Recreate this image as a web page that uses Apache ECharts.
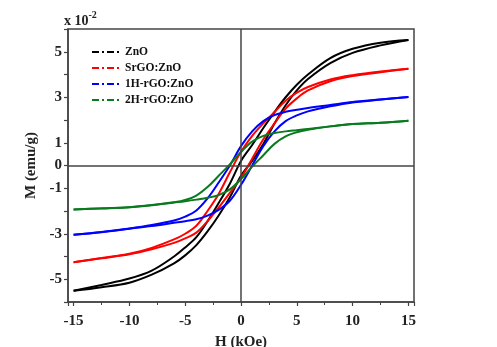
<!DOCTYPE html>
<html>
<head>
<meta charset="utf-8">
<script src="https://cdn.jsdelivr.net/npm/echarts@6/dist/echarts.min.js"></script>
<style>html,body{margin:0;padding:0;background:#fff;}#c{width:497px;height:347px;}</style>
</head>
<body>
<div id="c"></div>
<script>
// Field values (kOe)
var H = [-15, -12.5, -10, -8, -6, -5, -4, -3, -2, -1, 0, 1, 2, 3, 4, 5, 6, 8, 10, 12.5, 15];
// Magnetization (x 10^-2 emu/g), ascending (field up) and descending (field down) branches
var ZnO_asc  = [-5.51, -5.35, -5.15, -4.8, -4.3, -3.95, -3.5, -2.9, -2.2, -1.4, -0.45, 0.2, 0.95, 1.85, 2.65, 3.3, 3.8, 4.5, 4.95, 5.28, 5.52];
var ZnO_desc = [-5.51, -5.25, -4.97, -4.62, -4.0, -3.6, -3.15, -2.45, -1.65, -0.8, 0.2, 0.9, 1.65, 2.35, 3.0, 3.55, 4.0, 4.72, 5.13, 5.4, 5.52];
var SrGO_asc  = [-4.25, -4.08, -3.9, -3.68, -3.4, -3.2, -2.95, -2.45, -1.85, -1.2, -0.55, 0.3, 1.15, 1.85, 2.5, 2.95, 3.3, 3.7, 3.93, 4.1, 4.25];
var SrGO_desc = [-4.25, -4.07, -3.88, -3.62, -3.25, -3.0, -2.65, -2.0, -1.25, -0.3, 0.6, 1.3, 1.85, 2.35, 2.85, 3.2, 3.45, 3.78, 3.97, 4.13, 4.25];
var H1_asc  = [-3.04, -2.93, -2.78, -2.66, -2.52, -2.45, -2.36, -2.2, -1.95, -1.55, -0.85, 0.0, 0.85, 1.5, 1.95, 2.2, 2.38, 2.6, 2.77, 2.9, 3.01];
var H1_desc = [-3.04, -2.92, -2.77, -2.62, -2.42, -2.25, -1.98, -1.45, -0.75, 0.0, 0.85, 1.5, 1.95, 2.22, 2.36, 2.45, 2.53, 2.66, 2.79, 2.9, 3.01];
var H2_asc  = [-1.93, -1.89, -1.84, -1.75, -1.63, -1.57, -1.5, -1.42, -1.3, -1.05, -0.6, -0.05, 0.45, 0.95, 1.28, 1.46, 1.57, 1.72, 1.82, 1.88, 1.97];
var H2_desc = [-1.93, -1.88, -1.83, -1.74, -1.62, -1.52, -1.32, -0.95, -0.45, 0.05, 0.6, 1.05, 1.3, 1.43, 1.5, 1.55, 1.6, 1.72, 1.82, 1.88, 1.97];

var names = ['ZnO', 'SrGO:ZnO', '1H-rGO:ZnO', '2H-rGO:ZnO'];
var colors = ['#000000', '#ff0000', '#0000ff', '#0a7a1e'];
var branches = [[ZnO_asc, ZnO_desc], [SrGO_asc, SrGO_desc], [H1_asc, H1_desc], [H2_asc, H2_desc]];
var yLabels = [5, 3, 1, 0, -1, -3, -5];

var FONT = '"Liberation Serif", "Times New Roman", serif';
function pair(ys) { return H.map(function (h, i) { return [h, ys[i]]; }); }

var series = [];
branches.forEach(function (b, k) {
  b.forEach(function (ys, j) {
    series.push({
      name: names[k], type: 'line', data: pair(ys), symbol: 'none',
      smooth: 0.35, color: colors[k],
      lineStyle: { width: 2, color: colors[k] },
      z: 3
    });
  });
});
series.push({
  name: 'zero', type: 'line', data: [], silent: true,
  markLine: {
    silent: true, symbol: 'none', label: { show: false },
    lineStyle: { color: '#444', width: 1.5, type: 'solid' },
    data: [{ xAxis: 0 }, { yAxis: 0 }]
  },
  z: 2
});

var chart = echarts.init(document.getElementById('c'));
chart.setOption({
  animation: false,
  backgroundColor: '#fff',
  grid: { left: 68, right: 83, top: 29, bottom: 45, containLabel: false, outerBoundsMode: 'none',
          show: true, borderColor: '#444', borderWidth: 1.5, backgroundColor: 'transparent' },
  title: {
    text: '{a|x 10}{b|-2}', left: 59, top: 5,
    textStyle: { rich: {
      a: { fontFamily: FONT, fontWeight: 'bold', fontSize: 14, color: '#222', verticalAlign: 'bottom', lineHeight: 18 },
      b: { fontFamily: FONT, fontWeight: 'bold', fontSize: 10, color: '#222', verticalAlign: 'top', padding: [0, 0, 8, 0] }
    } }
  },
  legend: {
    data: names, orient: 'vertical', left: 86, top: 41, itemWidth: 28, itemHeight: 12, itemGap: 4,
    textStyle: { fontFamily: FONT, fontWeight: 'bold', fontSize: 11.5, color: '#111' },
    itemStyle: { opacity: 0 },
    lineStyle: { type: [7, 3, 2, 3], width: 2 }
  },
  xAxis: {
    type: 'value', min: -15.5, max: 15.5, splitNumber: 6,
    name: 'H (kOe)', nameLocation: 'middle', nameGap: 33,
    nameTextStyle: { fontFamily: FONT, fontWeight: 'bold', fontSize: 15, color: '#222' },
    axisLine: { onZero: false, lineStyle: { color: '#444', width: 1.5 } },
    axisTick: { inside: false, length: 4, lineStyle: { color: '#444', width: 1.2 } },
    minorTick: { show: true, splitNumber: 2, length: 3, lineStyle: { color: '#444', width: 1 } },
    splitLine: { show: false },
    axisLabel: {
      margin: 12, fontFamily: FONT, fontWeight: 'bold', fontSize: 15, color: '#222',
      formatter: function (v) { return (Math.abs(v % 5) < 1e-9) ? String(v) : ''; }
    }
  },
  yAxis: {
    type: 'value', min: -6, max: 6, interval: 1,
    name: 'M (emu/g)', nameLocation: 'middle', nameGap: 20, nameRotate: 90,
    nameTextStyle: { fontFamily: FONT, fontWeight: 'bold', fontSize: 15, color: '#222' },
    axisLine: { onZero: false, lineStyle: { color: '#444', width: 1.5 } },
    axisTick: { inside: false, length: 4, lineStyle: { color: '#444', width: 1.2 } },
    splitLine: { show: false },
    axisLabel: {
      margin: 6, fontFamily: FONT, fontWeight: 'bold', fontSize: 15, color: '#222',
      formatter: function (v) { return yLabels.indexOf(v) >= 0 ? String(v) : ''; }
    }
  },
  series: series
});
</script>
</body>
</html>
